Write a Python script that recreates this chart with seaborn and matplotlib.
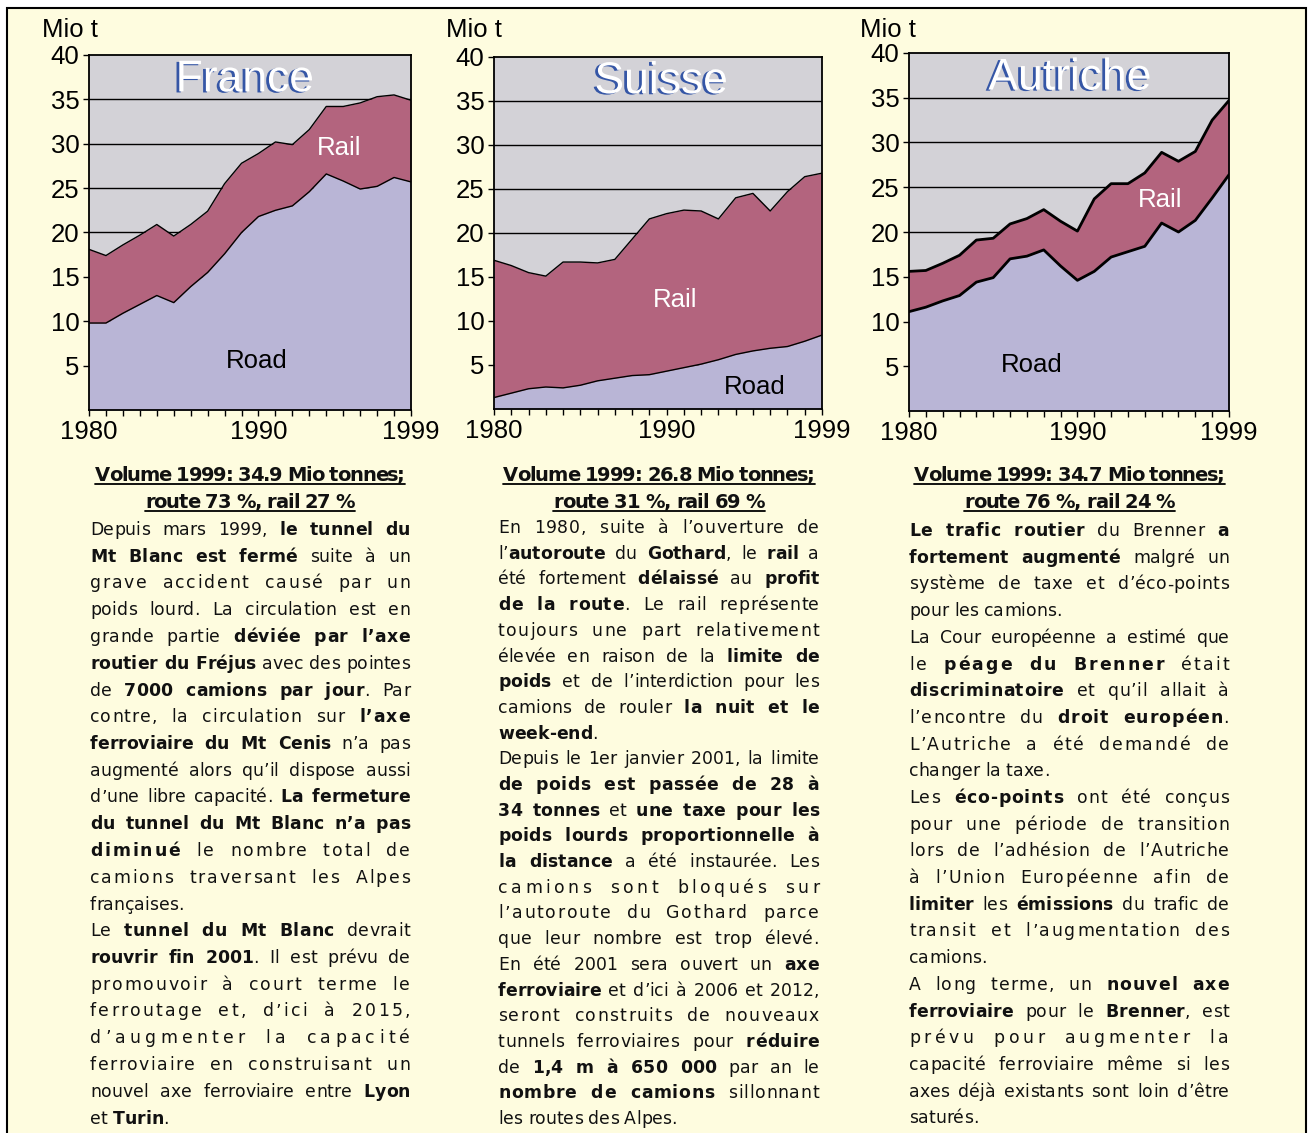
import matplotlib
matplotlib.use("Agg")
import seaborn as sns
from matplotlib import pyplot as plt
from matplotlib import patheffects as pe
from matplotlib.patches import Rectangle
from matplotlib.ticker import MultipleLocator
from matplotlib.font_manager import FontProperties, findfont
from matplotlib.ft2font import FT2Font

# ---- data (Mio t) ----
years = list(range(1980, 2000))

france_road = [9.8, 9.8, 10.9, 11.9, 12.9, 12.1, 13.9, 15.5, 17.6, 20.0,
               21.8, 22.5, 23.0, 24.6, 26.6, 25.8, 24.9, 25.2, 26.2, 25.7]
france_total = [18.1, 17.4, 18.6, 19.7, 20.9, 19.6, 20.9, 22.4, 25.5, 27.8,
                28.9, 30.2, 29.9, 31.6, 34.2, 34.2, 34.6, 35.3, 35.5, 34.9]

suisse_road = [1.3, 1.8, 2.3, 2.5, 2.4, 2.7, 3.2, 3.5, 3.8, 3.9,
               4.3, 4.7, 5.1, 5.6, 6.2, 6.6, 6.9, 7.1, 7.7, 8.4]
suisse_total = [16.9, 16.3, 15.5, 15.1, 16.7, 16.7, 16.6, 17.0, 19.3, 21.6,
                22.2, 22.6, 22.5, 21.6, 24.0, 24.5, 22.5, 24.7, 26.4, 26.8]

autriche_road = [11.1, 11.6, 12.3, 12.9, 14.4, 14.9, 17.0, 17.3, 18.0, 16.2,
                 14.6, 15.6, 17.2, 17.8, 18.4, 21.0, 20.0, 21.3, 23.8, 26.4]
autriche_total = [15.6, 15.7, 16.5, 17.4, 19.1, 19.3, 20.9, 21.5, 22.5, 21.2,
                  20.1, 23.7, 25.4, 25.4, 26.6, 28.9, 27.9, 29.0, 32.5, 34.7]

titles = ["France", "Suisse", "Autriche"]
y_ticks = [5, 10, 15, 20, 25, 30, 35, 40]
x_ticks = [1980, 1990, 1999]

headers = [
    ["Volume 1999: 34.9 Mio tonnes;", "route 73 %, rail 27 %"],
    ["Volume 1999: 26.8 Mio tonnes;", "route 31 %, rail 69 %"],
    ["Volume 1999: 34.7 Mio tonnes;", "route 76 %, rail 24 %"],
]

# ** toggles bold, a trailing | ends a paragraph (line not justified)
france_text = [
    "Depuis mars 1999, **le tunnel du**",
    "**Mt Blanc est fermé** suite à un",
    "grave accident causé par un",
    "poids lourd. La circulation est en",
    "grande partie **déviée par l’axe**",
    "**routier du Fréjus** avec des pointes",
    "de **7000 camions par jour**. Par",
    "contre, la circulation sur **l’axe**",
    "**ferroviaire du Mt Cenis** n’a pas",
    "augmenté alors qu’il dispose aussi",
    "d’une libre capacité. **La fermeture**",
    "**du tunnel du Mt Blanc n’a pas**",
    "**diminué** le nombre total de",
    "camions traversant les Alpes",
    "françaises.|",
    "Le **tunnel du Mt Blanc** devrait",
    "**rouvrir fin 2001**. Il est prévu de",
    "promouvoir à court terme le",
    "ferroutage et, d’ici à 2015,",
    "d’augmenter la capacité",
    "ferroviaire en construisant un",
    "nouvel axe ferroviaire entre **Lyon**",
    "et **Turin**.|",
]

suisse_text = [
    "En 1980, suite à l’ouverture de",
    "l’**autoroute** du **Gothard**, le **rail** a",
    "été fortement **délaissé** au **profit**",
    "**de la route**. Le rail représente",
    "toujours une part relativement",
    "élevée en raison de la **limite de**",
    "**poids** et de l’interdiction pour les",
    "camions de rouler **la nuit et le**",
    "**week-end**.|",
    "Depuis le 1er janvier 2001, la limite",
    "**de poids est passée de 28 à**",
    "**34 tonnes** et **une taxe pour les**",
    "**poids lourds proportionnelle à**",
    "**la distance** a été instaurée. Les",
    "camions sont bloqués sur",
    "l’autoroute du Gothard parce",
    "que leur nombre est trop élevé.",
    "En été 2001 sera ouvert un **axe**",
    "**ferroviaire** et d’ici à 2006 et 2012,",
    "seront construits de nouveaux",
    "tunnels ferroviaires pour **réduire**",
    "de **1,4 m à 650 000** par an le",
    "**nombre de camions** sillonnant",
    "les routes des Alpes.|",
]

autriche_text = [
    "**Le trafic routier** du Brenner **a**",
    "**fortement augmenté** malgré un",
    "système de taxe et d’éco-points",
    "pour les camions.|",
    "La Cour européenne a estimé que",
    "le **péage du Brenner** était",
    "**discriminatoire** et qu’il allait à",
    "l’encontre du **droit européen**.",
    "L’Autriche a été demandé de",
    "changer la taxe.|",
    "Les **éco-points** ont été conçus",
    "pour une période de transition",
    "lors de l’adhésion de l’Autriche",
    "à l’Union Européenne afin de",
    "**limiter** les **émissions** du trafic de",
    "transit et l’augmentation des",
    "camions.|",
    "A long terme, un **nouvel axe**",
    "**ferroviaire** pour le **Brenner**, est",
    "prévu pour augmenter la",
    "capacité ferroviaire même si les",
    "axes déjà existants sont loin d’être",
    "saturés.|",
]

# ---- style ----
W, H, DPI = 1312, 1133, 100
BG = "#FEFCDF"
GRAY = "#D3D2D7"
RAIL = "#B3647E"
ROAD = "#B9B5D6"
BLUE = "#3556A6"

sns.set_theme(style="white")
plt.rcParams["font.family"] = ["Liberation Sans", "DejaVu Sans"]

fig = plt.figure(figsize=(W / DPI, H / DPI), dpi=DPI, facecolor="white")

# overlay axes in pixel coordinates for the panel and the texts
over = fig.add_axes([0, 0, 1, 1], zorder=-5)
over.set_xlim(0, W)
over.set_ylim(H, 0)
over.axis("off")
over.add_patch(Rectangle((7, 8), 1299, 1150, facecolor=BG, edgecolor="black", lw=1.5))


def box(l, r, t, b):
    return [l / W, 1 - b / H, (r - l) / W, (b - t) / H]


charts = [
    dict(road=france_road, total=france_total, pos=box(89, 411, 55, 410), lw=1.0,
         title_xy=(0.484, 0.93), rail_xy=(1994.75, 29.5), road_xy=(1989.9, 5.5), mio_x=70),
    dict(road=suisse_road, total=suisse_total, pos=box(494, 822, 57, 409), lw=1.0,
         title_xy=(0.51, 0.93), rail_xy=(1990.5, 12.4), road_xy=(1995.1, 2.5), mio_x=474),
    dict(road=autriche_road, total=autriche_total, pos=box(909, 1229, 53, 411), lw=2.0,
         title_xy=(0.503, 0.93), rail_xy=(1994.9, 23.6), road_xy=(1987.3, 5.1), mio_x=888),
]

for title, c in zip(titles, charts):
    ax = fig.add_axes(c["pos"])
    ax.set_facecolor(GRAY)
    for v in y_ticks[:-1]:
        ax.axhline(v, color="black", lw=1.0, zorder=0.5)
    ax.fill_between(years, 0, c["road"], color=ROAD, lw=0, zorder=1)
    ax.fill_between(years, c["road"], c["total"], color=RAIL, lw=0, zorder=1)
    sns.lineplot(x=years, y=c["total"], ax=ax, color="black", linewidth=c["lw"], zorder=2)
    sns.lineplot(x=years, y=c["road"], ax=ax, color="black", linewidth=c["lw"], zorder=2)
    ax.set_xlim(1980, 1999)
    ax.set_ylim(0, 40)
    ax.set_xlabel("")
    ax.set_ylabel("")
    ax.set_yticks(y_ticks)
    ax.set_xticks(x_ticks)
    ax.xaxis.set_minor_locator(MultipleLocator(1))
    ax.tick_params(axis="both", which="major", labelsize=18.5, length=4, width=1,
                   direction="out", pad=3, colors="black")
    ax.tick_params(axis="x", which="minor", length=4, width=1, direction="out",
                   bottom=True, colors="black")
    ax.tick_params(axis="y", left=True)
    ax.tick_params(axis="x", bottom=True)
    for s in ax.spines.values():
        s.set_color("black")
        s.set_linewidth(1.3)
        s.set_visible(True)
    t = ax.text(c["title_xy"][0], c["title_xy"][1], title, transform=ax.transAxes,
                ha="center", va="center", fontsize=32, color="white", zorder=5)
    t.set_path_effects([pe.withSimplePatchShadow(offset=(-2, -0.8), shadow_rgbFace=BLUE, alpha=1.0)])
    ax.text(*c["rail_xy"], "Rail", ha="center", va="center", fontsize=18.5, color="white", zorder=5)
    ax.text(*c["road_xy"], "Road", ha="center", va="center", fontsize=18.5, color="black", zorder=5)
    over.text(c["mio_x"], 30, "Mio t", ha="center", va="center", fontsize=18.5, color="black")

# ---- justified text columns ----
BODY_PT = 12.4
HEAD_PT = 14
font_files = {
    False: findfont(FontProperties(family="DejaVu Sans", weight="normal")),
    True: findfont(FontProperties(family="DejaVu Sans", weight="bold")),
}
ft_fonts = {b: FT2Font(p) for b, p in font_files.items()}
adv_cache = {}


def advance(ch, bold, size):
    key = (ch, bold, size)
    if key not in adv_cache:
        f = ft_fonts[bold]
        f.set_size(size, DPI)
        adv_cache[key] = f.load_char(ord(ch)).linearHoriAdvance / 65536
    return adv_cache[key]


def parse(line):
    out, bold, i = [], False, 0
    while i < len(line):
        if line.startswith("**", i):
            bold = not bold
            i += 2
            continue
        out.append((line[i], bold))
        i += 1
    return out


def draw_line(line, x0, x1, y, size, all_bold=False):
    justify = not line.endswith("|")
    chars = parse(line.rstrip("|"))
    if all_bold:
        chars = [(ch, True) for ch, _ in chars]
    widths = [advance(ch, b, size) for ch, b in chars]
    nsp = sum(1 for ch, _ in chars if ch == " ")
    extra = (x1 - x0) - sum(widths) if justify else 0.0
    word_add = letter_add = 0.0
    if justify:
        if extra > 0 and nsp:
            word_add = min(extra / nsp, 0.4 * size * DPI / 72)
            extra -= word_add * nsp
        if len(chars) > 1:
            letter_add = extra / (len(chars) - 1)
    props = {b: FontProperties(fname=font_files[b], size=size) for b in (False, True)}
    x = x0
    for (ch, b), w in zip(chars, widths):
        if ch != " ":
            over.text(x, y, ch, fontproperties=props[b], ha="left", va="baseline",
                      color="#111111")
        x += w + letter_add + (word_add if ch == " " else 0)


columns = [
    dict(text=france_text, x0=90, x1=410, y0=535, dy=26.75, hx=[(95, 405), (145, 355)]),
    dict(text=suisse_text, x0=498, x1=819, y0=533, dy=25.7, hx=[(503, 815), (553, 765)]),
    dict(text=autriche_text, x0=909, x1=1229, y0=536, dy=26.7, hx=[(914, 1225), (964, 1175)]),
]

for head, col in zip(headers, columns):
    for (hx0, hx1), hy, line in zip(col["hx"], [481, 508], head):
        draw_line(line, hx0, hx1, hy, HEAD_PT, all_bold=True)
        over.plot([hx0, hx1], [hy + 3, hy + 3], color="black", lw=1.3)
    for i, line in enumerate(col["text"]):
        draw_line(line, col["x0"], col["x1"], col["y0"] + i * col["dy"], BODY_PT)

fig.savefig("out.png", dpi=DPI, facecolor="white")
